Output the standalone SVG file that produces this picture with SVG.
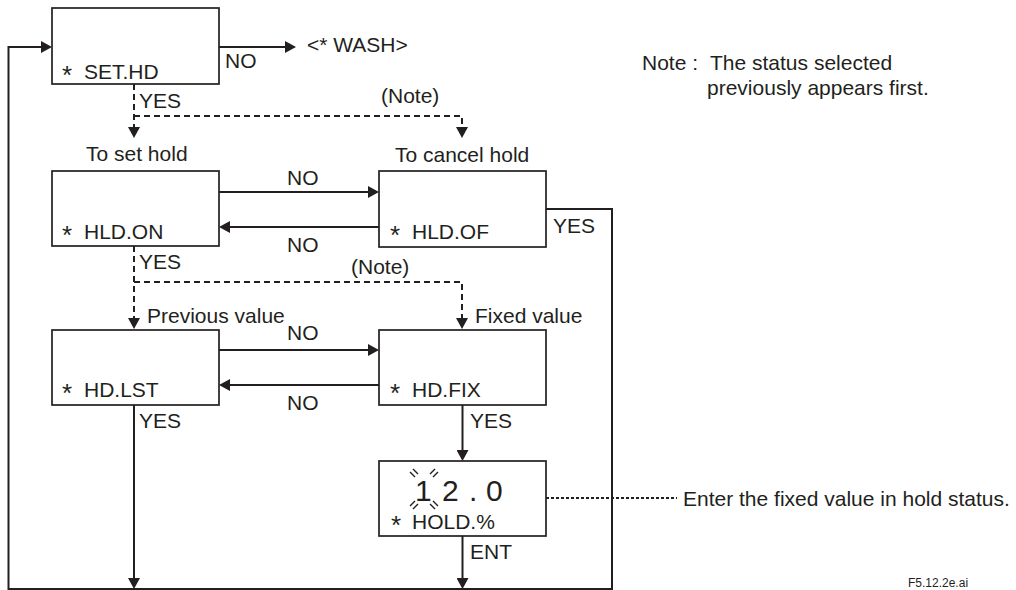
<svg xmlns="http://www.w3.org/2000/svg" width="1016" height="590" viewBox="0 0 1016 590">
<style>
text{font-family:"Liberation Sans",Arial,sans-serif;font-size:21px;fill:#231f20}
.ast{font-size:26px}
.box{fill:#fff;stroke:#231f20;stroke-width:1.7}
.ln{fill:none;stroke:#231f20;stroke-width:2}
.dash{stroke-dasharray:6 4}
.dot{stroke-dasharray:3 2}
.blink{stroke:#231f20;stroke-width:1.4;fill:none}
</style>
<defs>
<marker id="ah" viewBox="0 0 11 12" refX="5" refY="6" markerWidth="11" markerHeight="12" markerUnits="userSpaceOnUse" orient="auto">
<path d="M0,0 L11,6 L0,12 z" fill="#231f20"/>
</marker>
</defs>
<g id="connectors">
<path class="ln" d="M546,209 H612 V589 H8.5 V47 H46" marker-end="url(#ah)"/>
<path class="ln" d="M219,47 H290" marker-end="url(#ah)"/>
<path class="ln dash" d="M134,84 V132"/>
<path class="ln" d="M134,130 V132" marker-end="url(#ah)"/>
<path class="ln dash" d="M134,116 H462 V132"/>
<path class="ln" d="M462,130 V132" marker-end="url(#ah)"/>
<path class="ln" d="M219,192 H373" marker-end="url(#ah)"/>
<path class="ln" d="M379,227 H225" marker-end="url(#ah)"/>
<path class="ln dash" d="M134,246 V323"/>
<path class="ln" d="M134,321 V323" marker-end="url(#ah)"/>
<path class="ln dash" d="M134,282 H462 V323"/>
<path class="ln" d="M462,321 V323" marker-end="url(#ah)"/>
<path class="ln" d="M219,350 H373" marker-end="url(#ah)"/>
<path class="ln" d="M379,385 H225" marker-end="url(#ah)"/>
<path class="ln" d="M134,405 V583" marker-end="url(#ah)"/>
<path class="ln" d="M462.5,405 V455" marker-end="url(#ah)"/>
<path class="ln" d="M462.5,536 V583" marker-end="url(#ah)"/>
<path class="ln dot" d="M546,498 H677"/>
</g>
<g id="n-sethd">
<rect class="box" x="52" y="8" width="167" height="76"/>
<text y="79"><tspan class="ast" x="62" dy="5">*</tspan><tspan x="84" dy="-5">SET.HD</tspan></text>
</g>
<g id="n-wash"><text x="307" y="52">&lt;* WASH&gt;</text></g>
<g id="n-hldon">
<rect class="box" x="52" y="171" width="167" height="75"/>
<text y="239"><tspan class="ast" x="62" dy="5">*</tspan><tspan x="84" dy="-5">HLD.ON</tspan></text>
</g>
<g id="n-hldof">
<rect class="box" x="379" y="171" width="167" height="76"/>
<text y="239"><tspan class="ast" x="390" dy="5">*</tspan><tspan x="412" dy="-5">HLD.OF</tspan></text>
</g>
<g id="n-hdlst">
<rect class="box" x="52" y="330" width="167" height="75"/>
<text y="397"><tspan class="ast" x="62" dy="5">*</tspan><tspan x="84" dy="-5">HD.LST</tspan></text>
</g>
<g id="n-hdfix">
<rect class="box" x="379" y="330" width="167" height="75"/>
<text y="397"><tspan class="ast" x="390" dy="5">*</tspan><tspan x="412" dy="-5">HD.FIX</tspan></text>
</g>
<g id="n-hold">
<rect class="box" x="379" y="461" width="167" height="75"/>
<text y="501" style="font-size:30px" x="415 442 462 469 480 486">12 . 0</text>
<path class="blink" d="M410,472 L415,477 M413,469 L418,474 M433,477 L438,472 M430,474 L435,469 M410,506 L415,501 M413,509 L418,504 M433,501 L438,506 M430,504 L435,509"/>
<text y="529"><tspan class="ast" x="391" dy="5">*</tspan><tspan x="412" dy="-5">HOLD.%</tspan></text>
</g>
<g id="labels">
<text x="225" y="68">NO</text>
<text x="139" y="108">YES</text>
<text x="381" y="103">(Note)</text>
<text x="86" y="161">To set hold</text>
<text x="395" y="162">To cancel hold</text>
<text x="287" y="185">NO</text>
<text x="287" y="252">NO</text>
<text x="553" y="233">YES</text>
<text x="139" y="269">YES</text>
<text x="351" y="274">(Note)</text>
<text x="147" y="323">Previous value</text>
<text x="475" y="323">Fixed value</text>
<text x="287" y="340">NO</text>
<text x="287" y="410">NO</text>
<text x="139" y="428">YES</text>
<text x="470" y="428">YES</text>
<text x="470" y="559">ENT</text>
<text x="683" y="506">Enter the fixed value in hold status.</text>
<text x="642" y="70">Note :</text>
<text x="710" y="70">The status selected</text>
<text x="707" y="95">previously appears first.</text>
<text x="908" y="587" style="font-size:12px">F5.12.2e.ai</text>
</g>
</svg>
